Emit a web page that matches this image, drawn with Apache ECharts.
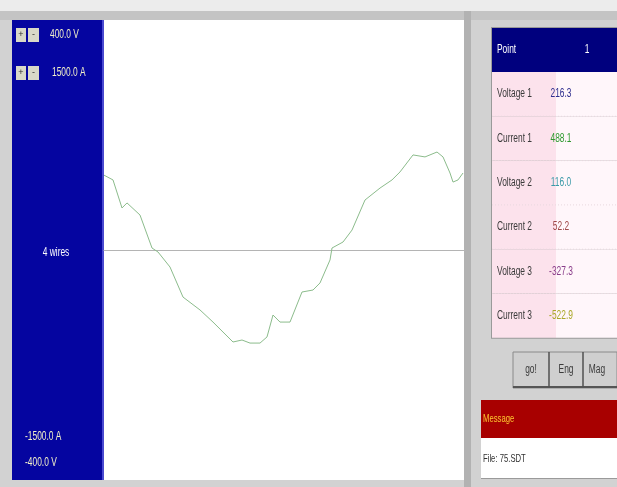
<!DOCTYPE html>
<html>
<head>
<meta charset="utf-8">
<script src="https://cdn.jsdelivr.net/npm/echarts@6/dist/echarts.min.js"></script>
<style>
  html, body { margin: 0; padding: 0; background: #d2d2d2; }
  #main { width: 617px; height: 487px; }
</style>
</head>
<body>
<div id="main"></div>
<script>
// Waveform samples: phase angle (deg) and current (A)
const angles = [0, 9, 18, 23, 36, 48, 54, 66, 79, 96, 109, 129, 138, 146, 156, 163, 169, 176, 186, 198, 209, 216, 226, 228, 239, 248, 261, 276, 288, 296, 309, 321, 333, 339, 346, 349, 354, 359];
const current1 = [488.1, 457, 274, 307, 228, 13, -13, -111, -307, -391, -470, -600, -587, -607, -607, -567, -424, -470, -470, -274, -261, -215, -65, 13, 52, 130, 326, 404, 457, 509, 620, 607, 639, 607, 502, 443, 457, 502];

// Scale labels
const scaleTop = ['400.0 V', '1500.0 A'];
const scaleBottom = ['-1500.0 A', '-400.0 V'];
const wiresLabel = '4 wires';

// Readout table
const pointLabel = 'Point';
const pointNumber = '1';
const rowLabels = ['Voltage 1', 'Current 1', 'Voltage 2', 'Current 2', 'Voltage 3', 'Current 3'];
const rowValues = ['216.3', '488.1', '116.0', '52.2', '-327.3', '-522.9'];
const valueColors = ['#2e2e8e', '#2f9a2f', '#3a9aa8', '#a04848', '#8a3e8a', '#aaa828'];

const buttonLabels = ['go!', 'Eng', 'Mag'];
const messageTitle = 'Message';
const messageText = 'File: 75.SDT';

const FONT = '"Liberation Sans", Arial, sans-serif';

const chart = echarts.init(document.getElementById('main'), null, { renderer: 'canvas' });

const g = [];
// condensed text helper (scaled horizontally around its anchor)
function txt(x, y, s, color, size, align, sx) {
  g.push({
    type: 'text', x: x, y: y, scaleX: sx || 0.7, silent: true,
    style: { x: 0, y: 0, text: s, fill: color, font: size + 'px ' + FONT, align: align || 'left', verticalAlign: 'middle' }
  });
}

// window background strips
g.push({ type: 'rect', shape: { x: 0, y: 0, width: 617, height: 11 }, style: { fill: '#ececec' }, silent: true });
g.push({ type: 'rect', shape: { x: 0, y: 11, width: 617, height: 9 }, style: { fill: '#c4c4c4' }, silent: true });
// left scale panel
g.push({ type: 'rect', shape: { x: 12, y: 20, width: 92, height: 460 }, style: { fill: '#0505a0' }, silent: true });
g.push({ type: 'rect', shape: { x: 102, y: 20, width: 2, height: 460 }, style: { fill: '#4a4ad0' }, silent: true });
// divider between plot and readouts
g.push({ type: 'rect', shape: { x: 464, y: 11, width: 7, height: 476 }, style: { fill: '#b2b2b2' }, silent: true });

// +/- buttons
[28, 66].forEach(function (y, i) {
  g.push({ type: 'rect', shape: { x: 16, y: y, width: 10, height: 14 }, style: { fill: '#d8d8c8' }, silent: true });
  txt(21, y + 7, '+', '#303030', 9, 'center', 1);
  g.push({ type: 'rect', shape: { x: 28, y: y, width: 11, height: 14 }, style: { fill: '#d8d8c8' }, silent: true });
  txt(33.5, y + 7, '-', '#303030', 9, 'center', 1);
  txt(50 + i * 2, y + 7, scaleTop[i], '#f2f0c8', 12);
});
txt(56, 253, wiresLabel, '#ffffff', 12, 'center');
txt(25, 437, scaleBottom[0], '#f2f0c8', 12);
txt(25, 463, scaleBottom[1], '#f2f0c8', 12);

// readout table
const tX = 492, tY = 28, colSplit = 556, rowH = 44.3, headH = 44;
g.push({ type: 'rect', shape: { x: tX - 1, y: tY - 1, width: 617 - tX + 2, height: headH + rowH * rowLabels.length + 2 }, style: { fill: '#9a9a9a' }, silent: true });
g.push({ type: 'rect', shape: { x: tX, y: tY, width: 617 - tX, height: headH }, style: { fill: '#00007e' }, silent: true });
txt(tX + 5, tY + headH / 2, pointLabel, '#ffffff', 12);
txt(587, tY + headH / 2, pointNumber, '#ffffff', 12, 'center');
rowLabels.forEach(function (lab, i) {
  const y0 = tY + headH + i * rowH;
  g.push({ type: 'rect', shape: { x: tX, y: y0, width: colSplit - tX, height: rowH }, style: { fill: '#fce2ec' }, silent: true });
  g.push({ type: 'rect', shape: { x: colSplit, y: y0, width: 617 - colSplit, height: rowH }, style: { fill: '#fff6fa' }, silent: true });
  if (i > 0) {
    g.push({ type: 'line', shape: { x1: tX, y1: y0, x2: 617, y2: y0 }, style: { stroke: '#e8d8de', lineWidth: 1, lineDash: [1, 2] }, silent: true });
  }
  txt(tX + 5, y0 + rowH / 2, lab, '#3a3a3a', 12);
  txt(561, y0 + rowH / 2, rowValues[i], valueColors[i], 12, 'center');
});

// buttons
const bx = [513, 549, 583, 617];
g.push({ type: 'rect', shape: { x: 513, y: 352, width: 104, height: 36 }, style: { fill: '#cfcfcf', stroke: '#8a8a8a', lineWidth: 1 }, silent: true });
g.push({ type: 'line', shape: { x1: 513, y1: 387, x2: 617, y2: 387 }, style: { stroke: '#555555', lineWidth: 2 }, silent: true });
buttonLabels.forEach(function (lab, i) {
  if (i > 0) {
    g.push({ type: 'line', shape: { x1: bx[i], y1: 352, x2: bx[i], y2: 387 }, style: { stroke: '#505050', lineWidth: 1.5 }, silent: true });
  }
  txt((bx[i] + bx[i + 1]) / 2 + (i === 2 ? -3 : 0), 370, lab, '#3a3a3a', 12, 'center');
});

// message panel
g.push({ type: 'rect', shape: { x: 481, y: 400, width: 136, height: 38 }, style: { fill: '#a80000' }, silent: true });
txt(483, 419, messageTitle, '#ffc830', 11);
g.push({ type: 'rect', shape: { x: 481, y: 438, width: 136, height: 40 }, style: { fill: '#ffffff' }, silent: true });
g.push({ type: 'line', shape: { x1: 481, y1: 478.5, x2: 617, y2: 478.5 }, style: { stroke: '#9a9a9a', lineWidth: 1 }, silent: true });
txt(483, 459, messageText, '#303030', 11);

chart.setOption({
  backgroundColor: '#d2d2d2',
  animation: false,
  grid: {
    left: 104, top: 20, width: 360, height: 460,
    show: true, backgroundColor: '#ffffff', borderWidth: 0
  },
  xAxis: {
    type: 'value', min: 0, max: 360,
    axisLine: { show: true, onZero: true, lineStyle: { color: '#b4b4b4', width: 1 } },
    axisTick: { show: false }, axisLabel: { show: false }, splitLine: { show: false }
  },
  yAxis: {
    type: 'value', min: -1500, max: 1500,
    axisLine: { show: false }, axisTick: { show: false }, axisLabel: { show: false }, splitLine: { show: false }
  },
  series: [{
    type: 'line',
    data: angles.map(function (a, i) { return [a, current1[i]]; }),
    showSymbol: false,
    lineStyle: { color: '#8cbc8c', width: 1 },
    z: 3
  }],
  graphic: { elements: g }
});
</script>
</body>
</html>
